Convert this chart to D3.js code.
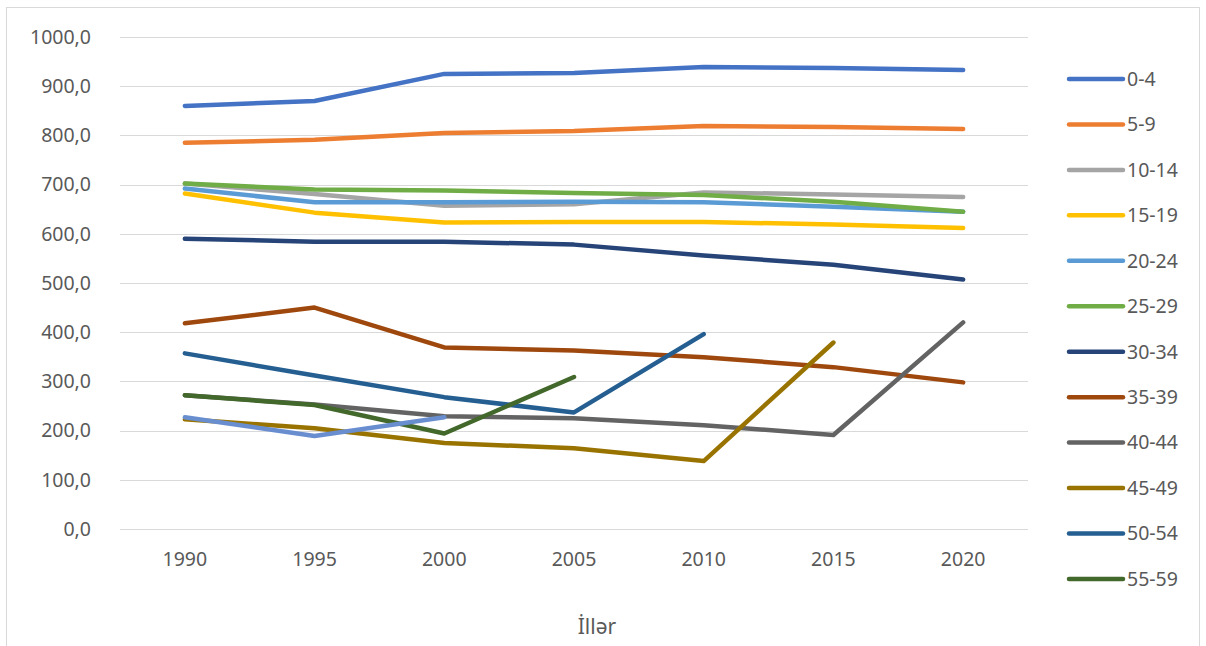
<!DOCTYPE html>
<html>
<head>
<meta charset="utf-8">
<script src="https://cdn.jsdelivr.net/npm/d3@7"></script>
<style>
  body { margin: 0; background: #fff; }
  text { font-family: "Noto Sans", "Open Sans", sans-serif; fill: #595959; }
</style>
</head>
<body>
<script>
'use strict';

// years on the category axis
const years = ["1990", "1995", "2000", "2005", "2010", "2015", "2020"];

// age groups (legend names) and their colours
const groups = ["0-4", "5-9", "10-14", "15-19", "20-24", "25-29", "30-34",
                "35-39", "40-44", "45-49", "50-54", "55-59", "60-64"];
const colors = ["#4472C4", "#ED7D31", "#A5A5A5", "#FFC000", "#5B9BD5", "#70AD47",
                "#264478", "#9E480E", "#636363", "#997300", "#255E91", "#43682B", "#698ED0"];

// values per group, null where the series has no point
const v0_4   = [860, 870, 925, 927, 939, 937, 933];
const v5_9   = [785, 791, 805, 809, 819, 817, 813];
const v10_14 = [702, 681, 657, 660, 684, 680, 675];
const v15_19 = [682, 643, 623, 624, 624, 619, 612];
const v20_24 = [692, 664, 664, 665, 664, 655, 645];
const v25_29 = [702, 690, 688, 683, 679, 665, 645];
const v30_34 = [590, 584, 584, 578, 556, 537, 507];
const v35_39 = [418, 450, 369, 363, 349, 329, 298];
const v40_44 = [272, 253, 229, 225, 211, 191, 420];
const v45_49 = [223, 205, 175, 164, 138, 379, null];
const v50_54 = [357, 312, 268, 237, 396, null, null];
const v55_59 = [272, 252, 194, 309, null, null, null];
const v60_64 = [227, 189, 227, null, null, null, null];
const seriesValues = [v0_4, v5_9, v10_14, v15_19, v20_24, v25_29, v30_34,
                      v35_39, v40_44, v45_49, v50_54, v55_59, v60_64];

// only the first twelve names fit in the legend
const legendCount = 12;

const yTicks = [0, 100, 200, 300, 400, 500, 600, 700, 800, 900, 1000];

const svg = d3.select('body').append('svg')
  .attr('width', 1206)
  .attr('height', 646);

// chart frame (bottom edge runs off the picture)
svg.append('rect')
  .attr('x', 6.5).attr('y', 7.5)
  .attr('width', 1193).attr('height', 650)
  .attr('fill', 'none')
  .attr('stroke', '#D9D9D9');

const xScale = d3.scaleBand().domain(years).range([120, 1028]);
const xPos = (i) => xScale(years[i]) + xScale.bandwidth() / 2;
const yScale = d3.scaleLinear().domain([0, 1000]).range([529, 37]);

// horizontal gridlines
svg.append('g')
  .selectAll('line')
  .data(yTicks)
  .enter()
  .append('line')
    .attr('x1', 120).attr('x2', 1028)
    .attr('y1', (d) => Math.round(yScale(d)) + 0.5)
    .attr('y2', (d) => Math.round(yScale(d)) + 0.5)
    .attr('stroke', '#D9D9D9')
    .attr('stroke-width', 1);

// y tick labels
const fmt = (d) => d3.format('.1f')(d).replace('.', ',');
svg.append('g')
  .selectAll('text')
  .data(yTicks)
  .enter()
  .append('text')
    .attr('x', 91)
    .attr('y', (d) => yScale(d))
    .attr('dy', '0.35em')
    .attr('text-anchor', 'end')
    .style('font-size', '19.5px')
    .text(fmt);

// x tick labels
svg.append('g')
  .selectAll('text')
  .data(years)
  .enter()
  .append('text')
    .attr('x', (d) => xScale(d) + xScale.bandwidth() / 2)
    .attr('y', 559)
    .attr('dy', '0.35em')
    .attr('text-anchor', 'middle')
    .style('font-size', '19.5px')
    .text((d) => d);

// axis title
svg.append('text')
  .attr('x', 597)
  .attr('y', 627)
  .attr('dy', '0.35em')
  .attr('text-anchor', 'middle')
  .style('font-size', '21px')
  .text('İllər');

// the lines
const line = d3.line()
  .defined((d) => d != null)
  .x((d, i) => xPos(i))
  .y((d) => yScale(d));

svg.append('g')
  .selectAll('path')
  .data(seriesValues)
  .enter()
  .append('path')
    .attr('d', line)
    .attr('fill', 'none')
    .attr('stroke', (d, i) => colors[i])
    .attr('stroke-width', 4.5)
    .attr('stroke-linecap', 'round')
    .attr('stroke-linejoin', 'round');

// legend
const legend = svg.append('g')
  .selectAll('g')
  .data(groups.slice(0, legendCount))
  .enter()
  .append('g')
    .attr('transform', (d, i) => 'translate(0,' + (79 + i * 45.45) + ')');

legend.append('line')
  .attr('x1', 1069).attr('x2', 1123)
  .attr('y1', 0).attr('y2', 0)
  .attr('stroke', (d, i) => colors[i])
  .attr('stroke-width', 4.5)
  .attr('stroke-linecap', 'round');

legend.append('text')
  .attr('x', 1127)
  .attr('y', 0)
  .attr('dy', '0.35em')
  .style('font-size', '19.5px')
  .text((d) => d);
</script>
</body>
</html>
